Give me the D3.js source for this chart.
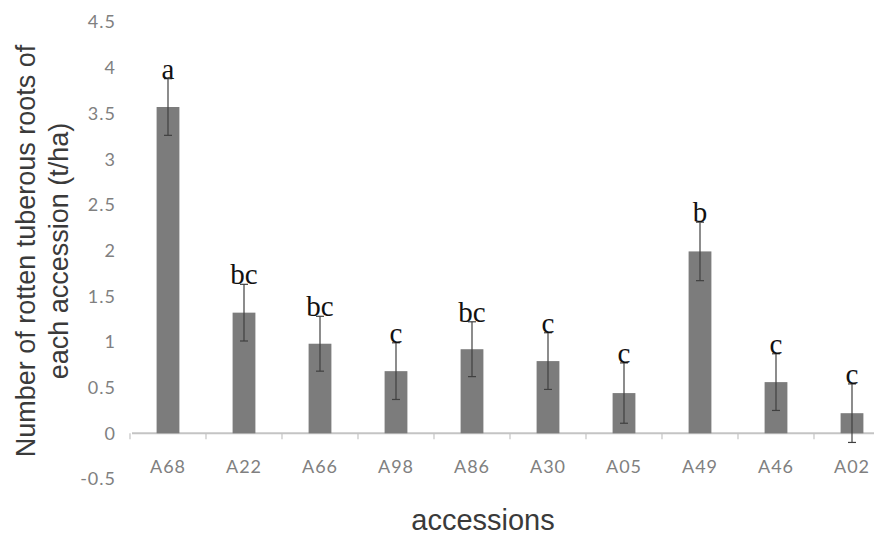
<!DOCTYPE html>
<html>
<head>
<meta charset="utf-8">
<script src="https://cdn.jsdelivr.net/npm/d3@7"></script>
<style>
  body { margin: 0; background: #fff; }
  svg { display: block; }
</style>
</head>
<body>
<svg></svg>
<script>
var width = 874;
var height = 540;

// data
var accessions = ["A68", "A22", "A66", "A98", "A86", "A30", "A05", "A49", "A46", "A02"];
var means = [3.57, 1.32, 0.98, 0.68, 0.92, 0.79, 0.44, 1.99, 0.56, 0.22];
var errors = [0.31, 0.31, 0.30, 0.31, 0.30, 0.31, 0.33, 0.32, 0.31, 0.32];
var letters = ["a", "bc", "bc", "c", "bc", "c", "c", "b", "c", "c"];
var yTicks = [-0.5, 0, 0.5, 1, 1.5, 2, 2.5, 3, 3.5, 4, 4.5];

var svg = d3.select("svg")
  .attr("width", width)
  .attr("height", height);

var x = d3.scaleBand()
  .domain(accessions)
  .range([130, 890])
  .paddingInner(0.7)
  .paddingOuter(0.35);

var y = d3.scaleLinear()
  .domain([-0.5, 4.5])
  .range([479, 22]);

var tickFont = "Lato, 'Open Sans', sans-serif";

// y tick labels (no axis line)
svg.append("g").selectAll("text")
  .data(yTicks)
  .enter()
  .append("text")
  .attr("x", 116)
  .attr("y", function(d) { return y(d); })
  .attr("dy", "0.36em")
  .attr("text-anchor", "end")
  .style("font-family", tickFont)
  .style("font-size", "18px")
  .style("letter-spacing", "1px")
  .style("fill", "#808080")
  .text(function(d) { return d; });

// x axis line and boundary ticks
var xAxis = svg.append("g");
xAxis.append("line")
  .attr("x1", 132)
  .attr("x2", width)
  .attr("y1", y(0))
  .attr("y2", y(0))
  .style("stroke", "#c4c4c4")
  .style("stroke-width", 2);

var bounds = accessions.map(function(d) { return x(d) - x.step() * x.paddingInner() / 2; });
bounds.push(x(accessions[accessions.length - 1]) + x.bandwidth() + x.step() * x.paddingInner() / 2);
xAxis.selectAll(".tick")
  .data(bounds)
  .enter()
  .append("line")
  .attr("class", "tick")
  .attr("x1", function(d) { return d; })
  .attr("x2", function(d) { return d; })
  .attr("y1", y(0))
  .attr("y2", y(0) + 6)
  .style("stroke", "#c4c4c4")
  .style("stroke-width", 1.2);

xAxis.selectAll(".lab")
  .data(accessions)
  .enter()
  .append("text")
  .attr("class", "lab")
  .attr("x", function(d) { return x(d) + x.bandwidth() / 2; })
  .attr("y", 473)
  .attr("text-anchor", "middle")
  .style("font-family", tickFont)
  .style("font-size", "18px")
  .style("letter-spacing", "1px")
  .style("fill", "#808080")
  .text(function(d) { return d; });

// bars
svg.append("g").selectAll("rect")
  .data(accessions)
  .enter()
  .append("rect")
  .attr("x", function(d) { return x(d); })
  .attr("width", x.bandwidth())
  .attr("y", function(d, i) { return y(means[i]); })
  .attr("height", function(d, i) { return y(0) - y(means[i]); })
  .style("fill", "#7c7c7c");

// error bars
var err = svg.append("g").selectAll("g")
  .data(accessions)
  .enter()
  .append("g")
  .attr("transform", function(d) { return "translate(" + (x(d) + x.bandwidth() / 2) + ",0)"; });

err.append("line")
  .attr("y1", function(d, i) { return y(means[i] - errors[i]); })
  .attr("y2", function(d, i) { return y(means[i] + errors[i]); })
  .style("stroke", "#404040")
  .style("stroke-width", 1.2);

err.append("line")
  .attr("x1", -4).attr("x2", 4)
  .attr("y1", function(d, i) { return y(means[i] - errors[i]); })
  .attr("y2", function(d, i) { return y(means[i] - errors[i]); })
  .style("stroke", "#404040")
  .style("stroke-width", 1.2);

err.append("line")
  .attr("x1", -4).attr("x2", 4)
  .attr("y1", function(d, i) { return y(means[i] + errors[i]); })
  .attr("y2", function(d, i) { return y(means[i] + errors[i]); })
  .style("stroke", "#404040")
  .style("stroke-width", 1.2);

// significance letters
err.append("text")
  .attr("y", function(d, i) { return y(means[i] + errors[i]); })
  .attr("text-anchor", "middle")
  .style("font-family", "'Liberation Serif', 'DejaVu Serif', serif")
  .style("font-size", "29px")
  .style("fill", "#111")
  .text(function(d, i) { return letters[i]; });

// axis titles
var yTitle = svg.append("text")
  .attr("transform", "translate(35,251) rotate(-90)")
  .attr("text-anchor", "middle")
  .style("font-family", "'Liberation Sans', Arial, sans-serif")
  .style("font-size", "27px")
  .style("fill", "#3a3a3a");
yTitle.append("tspan").attr("x", 0).attr("dy", 0).text("Number of rotten tuberous roots of");
yTitle.append("tspan").attr("x", 0).attr("dy", 33).text("each accession (t/ha)");

svg.append("text")
  .attr("x", 483)
  .attr("y", 530)
  .attr("text-anchor", "middle")
  .style("font-family", "'Liberation Sans', Arial, sans-serif")
  .style("font-size", "29px")
  .style("fill", "#3a3a3a")
  .text("accessions");
</script>
</body>
</html>
